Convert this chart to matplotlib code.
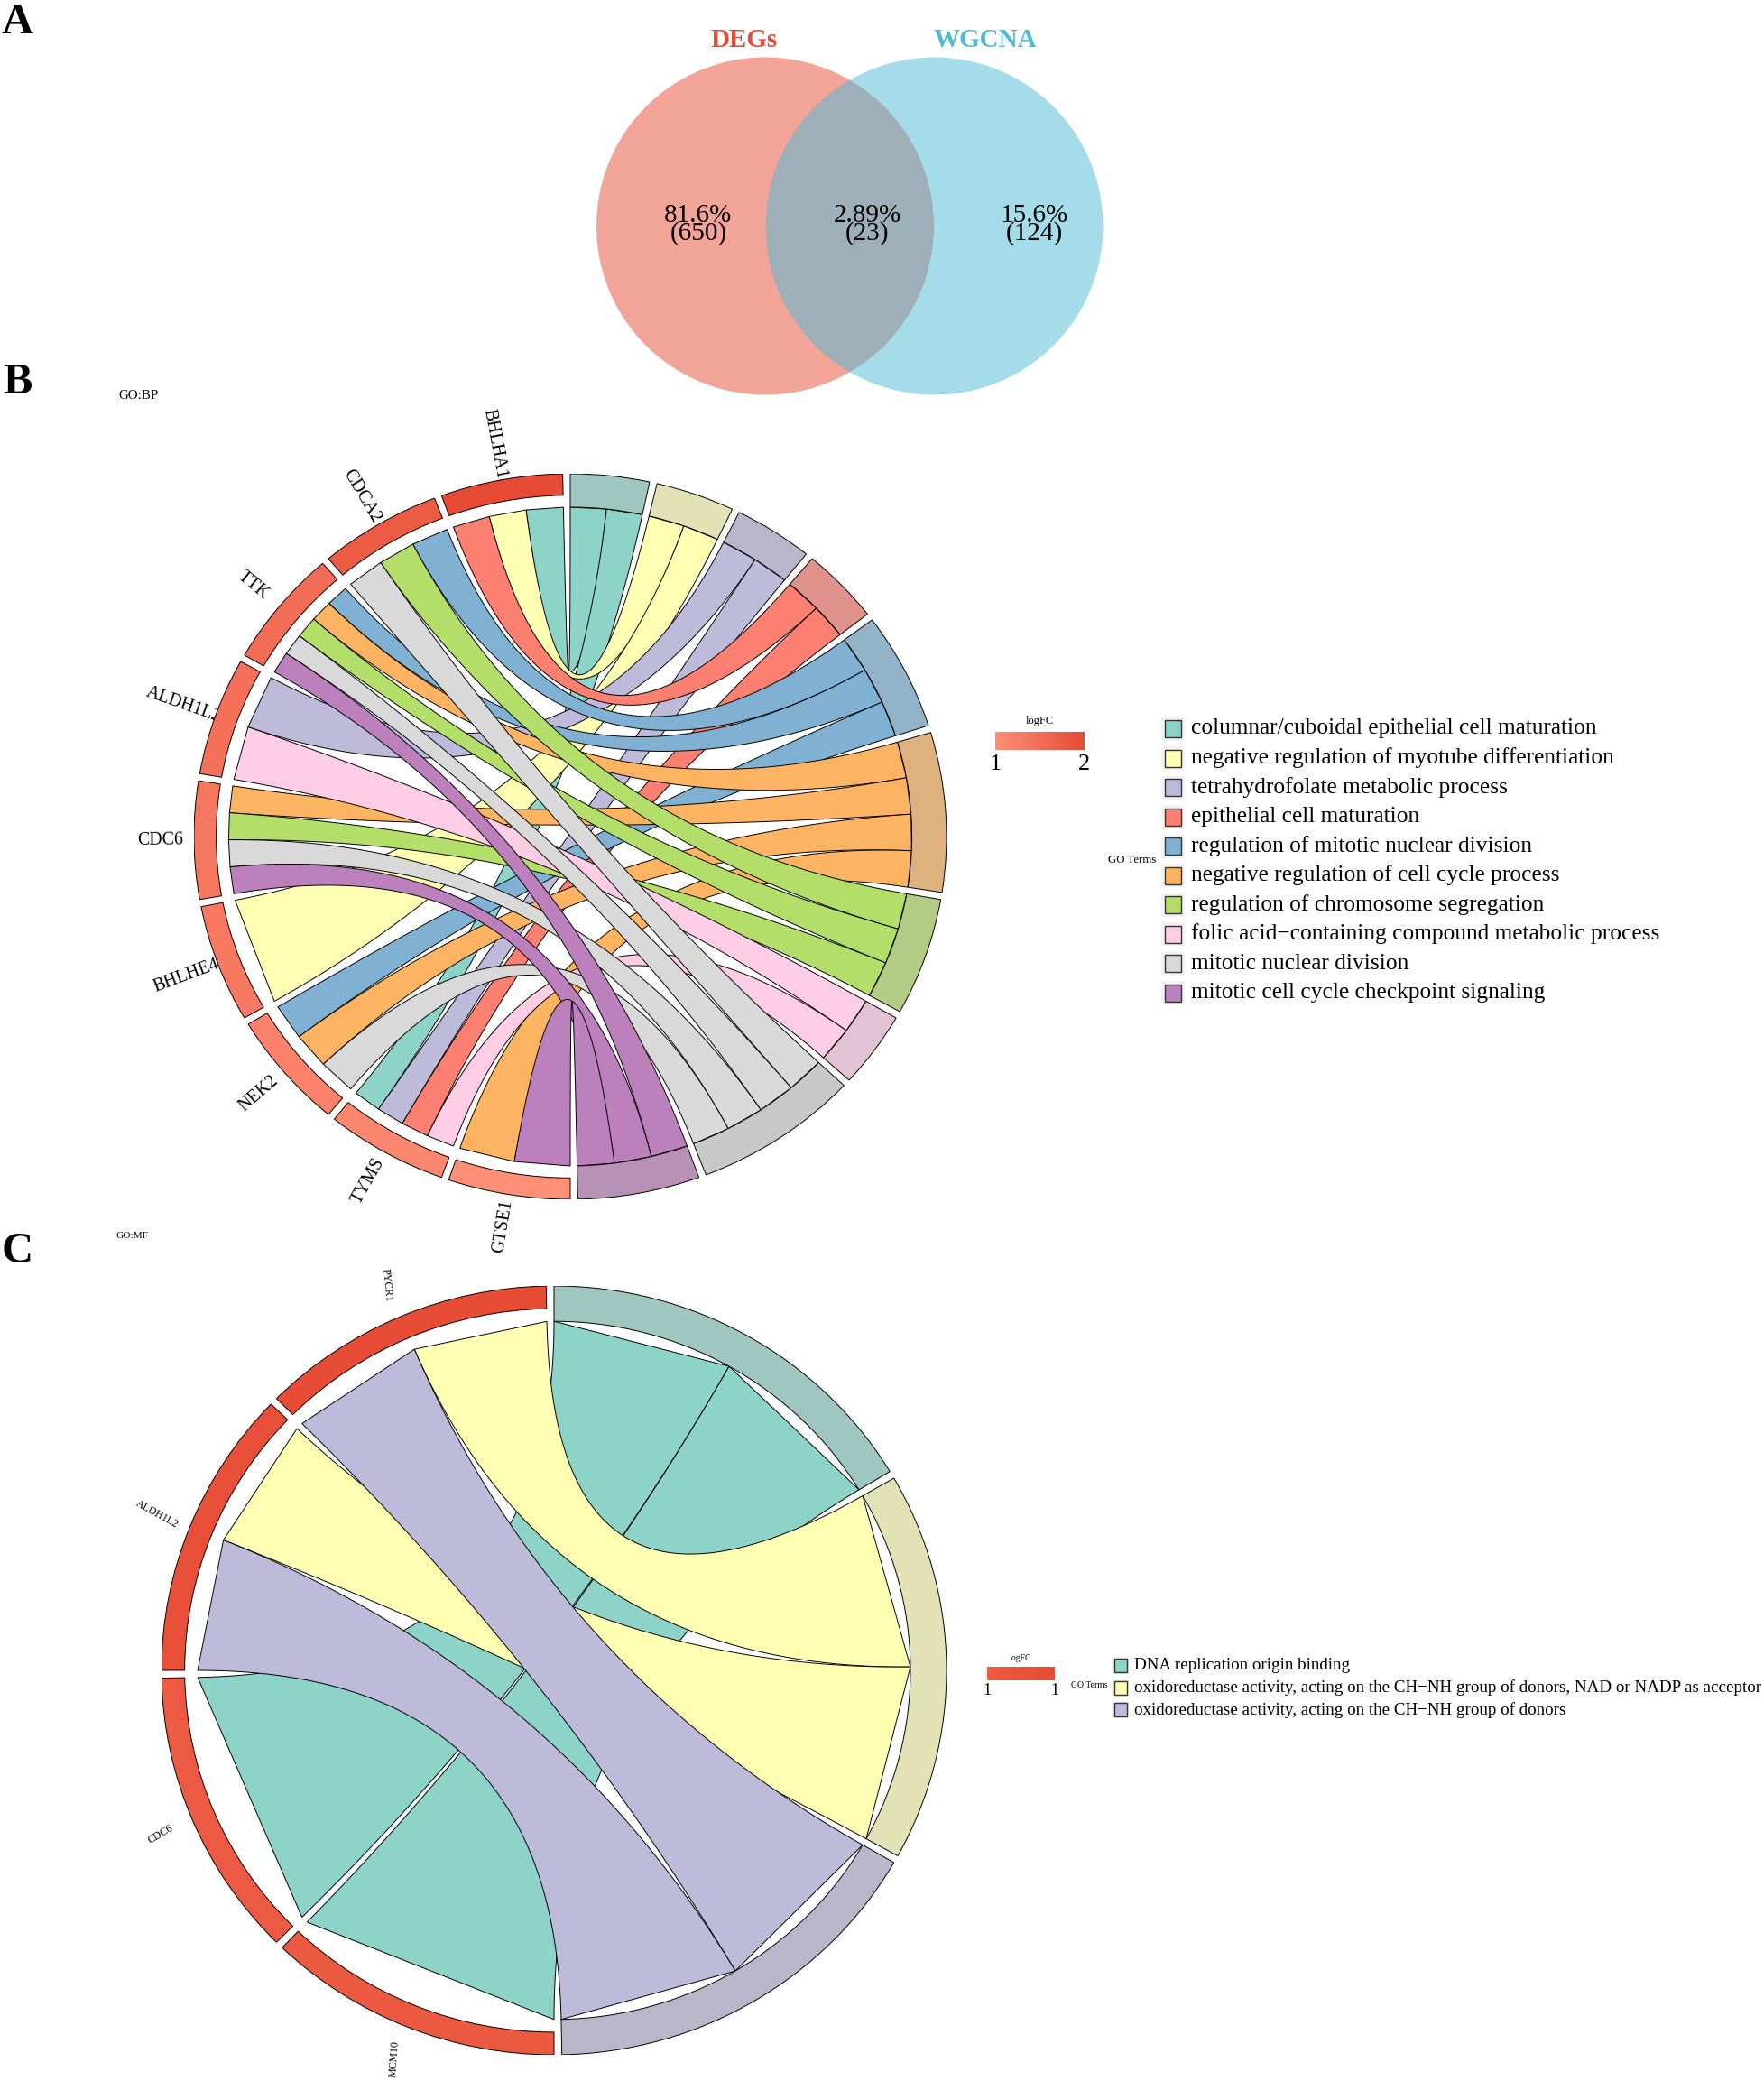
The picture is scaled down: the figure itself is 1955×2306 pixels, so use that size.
import numpy as np
import matplotlib
matplotlib.use("Agg")
import matplotlib.pyplot as plt
from matplotlib.colors import LinearSegmentedColormap
from matplotlib.patches import Circle, Polygon, Rectangle, Wedge

plt.rcParams['font.family'] = ['Liberation Serif', 'DejaVu Serif']

W, H = 1955, 2306

# Venn
venn_names = ['DEGs', 'WGCNA']
venn_colors = ['#E64B35', '#4DBBD5']
venn_pct = ['81.6%', '2.89%', '15.6%']
venn_cnt = ['(650)', '(23)', '(124)']

# GO:BP
bp_genes = ['GTSE1', 'TYMS', 'NEK2', 'BHLHE4', 'CDC6', 'ALDH1L2', 'TTK', 'CDCA2', 'BHLHA15']
bp_logfc = [1.0, 1.12, 1.2, 1.32, 1.35, 1.45, 1.5, 1.75, 2.0]
bp_terms = ['columnar/cuboidal epithelial cell maturation',
            'negative regulation of myotube differentiation',
            'tetrahydrofolate metabolic process',
            'epithelial cell maturation',
            'regulation of mitotic nuclear division',
            'negative regulation of cell cycle process',
            'regulation of chromosome segregation',
            'folic acid\u2212containing compound metabolic process',
            'mitotic nuclear division',
            'mitotic cell cycle checkpoint signaling']
bp_members = [['BHLHA15', 'TYMS'],
              ['BHLHA15', 'BHLHE4'],
              ['ALDH1L2', 'TYMS'],
              ['BHLHA15', 'TYMS'],
              ['CDCA2', 'TTK', 'NEK2'],
              ['TTK', 'CDC6', 'NEK2', 'GTSE1'],
              ['CDCA2', 'TTK', 'CDC6'],
              ['ALDH1L2', 'TYMS'],
              ['CDCA2', 'TTK', 'CDC6', 'NEK2'],
              ['TTK', 'CDC6', 'GTSE1']]

# GO:MF
mf_genes = ['MCM10', 'CDC6', 'ALDH1L2', 'PYCR1']
mf_logfc = [1.04, 1.02, 1.15, 1.18]
mf_terms = ['DNA replication origin binding',
            'oxidoreductase activity, acting on the CH\u2212NH group of donors, NAD or NADP as acceptor',
            'oxidoreductase activity, acting on the CH\u2212NH group of donors']
mf_members = [['CDC6', 'MCM10'],
              ['PYCR1', 'ALDH1L2'],
              ['PYCR1', 'ALDH1L2']]

ribbon_cols = ['#8DD3C7', '#FFFFB3', '#BEBADA', '#FB8072', '#80B1D3',
               '#FDB462', '#B3DE69', '#FCCDE5', '#D9D9D9', '#BC80BD']
ring_cols = ['#9FC6BF', '#E2E2B6', '#B9B6CC', '#DF918B', '#93B3C9',
             '#DFB17F', '#B3CC85', '#E1C3D4', '#C8C8C8', '#B792B6']

R_RIB = 0.908
R_GENE = 0.941
GAP = 1.15


def pol(theta, r=R_RIB):
    a = np.radians(theta)
    return np.array([r * np.sin(a), r * np.cos(a)])


def bezier(p0, p1, n=100):
    # control point sits on the origin, like GOChord
    t = np.linspace(0, 1, n)[:, None]
    return (1 - t) ** 2 * p0 + t ** 2 * p1


def chord_axes(cx, cy, rx, ry):
    ax = fig.add_axes([(cx - rx) / W, 1 - (cy + ry) / H, 2 * rx / W, 2 * ry / H])
    ax.set_xlim(-1, 1)
    ax.set_ylim(-1, 1)
    ax.axis('off')
    return ax


def draw_chord(ax, genes, logfc, terms, members, cmap, vmin, vmax, label_size, rots=None):
    n_rib = sum(len(m) for m in members)
    pitch = 180 / n_rib
    step = 180 / len(genes)

    # gene slots, clockwise inside a gene = last term first
    gene_slots = {}
    for i, g in enumerate(genes):
        hits = [k for k in range(len(terms)) if g in members[k]][::-1]
        w = (step - GAP) / len(hits)
        a0 = 180 + step * i
        for j, k in enumerate(hits):
            gene_slots[(g, k)] = (a0 + j * w, a0 + (j + 1) * w)
        col = cmap((logfc[i] - vmin) / (vmax - vmin))
        ax.add_patch(Wedge((0, 0), 1, 90 - (a0 + step - GAP), 90 - a0, width=1 - R_GENE,
                           fc=col, ec='black', lw=0.7, zorder=3))
        mid = a0 + (step - GAP) / 2
        x, y = pol(mid, 1.09)
        rot = 270 - mid if rots is None else rots[i]
        ax.text(x, y, g, fontsize=label_size, rotation=rot, ha='center', va='center',
                rotation_mode='anchor', zorder=1, clip_on=False)

    # terms start at the top and run clockwise
    pos = 0
    for k, term in enumerate(terms):
        full = len(members[k]) * pitch
        width = full - GAP
        unit = width / len(members[k])
        ax.add_patch(Wedge((0, 0), 1, 90 - (pos + width), 90 - pos, width=1 - R_RIB,
                           fc=ring_cols[k], ec='black', lw=0.7, zorder=3))
        for j, g in enumerate(members[k]):
            b1, b2 = pos + j * unit, pos + (j + 1) * unit
            a1, a2 = gene_slots[(g, k)]
            path = np.vstack([bezier(pol(a2), pol(b1)), bezier(pol(b2), pol(a1))])
            ax.add_patch(Polygon(path, closed=True, fc=ribbon_cols[k], ec='black',
                                 lw=0.7, zorder=2 + k * 0.01))
        pos += full


def draw_legend(ax, terms, key_x, y0, dy, key_w, key_h, back, text_x, size):
    for i, term in enumerate(terms):
        y = y0 + i * dy
        ax.add_patch(Rectangle((key_x - back / 2, y - back / 2), back, back,
                               fc='#F2F2F2', ec='none'))
        ax.add_patch(Rectangle((key_x - key_w / 2, y - key_h / 2), key_w, key_h,
                               fc=ribbon_cols[i], ec='#333333', lw=1))
        ax.text(text_x, y, term, fontsize=size, va='center', ha='left')


def draw_colorbar(x0, x1, y0, y1, cmap, ticks, size, off):
    cax = fig.add_axes([x0 / W, 1 - y1 / H, (x1 - x0) / W, (y1 - y0) / H])
    cax.imshow(np.linspace(0, 1, 256)[None, :], aspect='auto', cmap=cmap, vmin=0, vmax=1)
    cax.axis('off')
    over.text(x0, y1 + off, ticks[0], fontsize=size, ha='center', va='center')
    over.text(x1, y1 + off, ticks[1], fontsize=size, ha='center', va='center')


fig = plt.figure(figsize=(W / 100, H / 100), dpi=100, facecolor='white')

# pixel overlay for texts and legends
over = fig.add_axes([0, 0, 1, 1])
over.set_xlim(0, W)
over.set_ylim(H, 0)
over.axis('off')

# A - venn
venn_x = [848, 1035.5]
for x, c in zip(venn_x, venn_colors):
    over.add_patch(Circle((x, 250.5), 187, fc=c, alpha=0.5, ec='none'))
over.text(825, 44, venn_names[0], color=venn_colors[0], fontsize=21, weight='bold',
          ha='center', va='center')
over.text(1092, 44, venn_names[1], color=venn_colors[1], fontsize=21, weight='bold',
          ha='center', va='center')
for x, p, c in zip([774, 961, 1146], venn_pct, venn_cnt):
    over.text(x, 239, p, fontsize=21, ha='center', va='center')
    over.text(x, 259, c, fontsize=21, ha='center', va='center')

for lab, y in zip('ABC', [25, 424, 1387]):
    over.text(19, y, lab, fontsize=35, weight='bold', ha='center', va='center')

# B
over.text(131, 438, 'GO:BP', fontsize=10.8, va='center')
bp_cmap = LinearSegmentedColormap.from_list('bp', ['#FF8F77', '#E64B35'])
ax_b = chord_axes(632, 927, 417, 402)
draw_chord(ax_b, bp_genes, bp_logfc, bp_terms, bp_members, bp_cmap, 1, 2, 14.3)
over.text(1152, 799, 'logFC', fontsize=9, ha='center', va='center')
draw_colorbar(1103, 1202, 811, 831, bp_cmap, ['1', '2'], 19, 16)
over.text(1281, 953, 'GO Terms', fontsize=9.3, ha='right', va='center')
draw_legend(over, bp_terms, 1300, 807.5, 32.5, 18, 19, 26, 1320, 18.25)

# C
over.text(129, 1369, 'GO:MF', fontsize=8.2, va='center')
mf_cmap = LinearSegmentedColormap.from_list('mf', ['#EE5C44', '#E64B35'])
ax_c = chord_axes(614, 1851, 435, 426)
draw_chord(ax_c, mf_genes, mf_logfc, mf_terms, mf_members, mf_cmap, 1, 1.2, 8.5,
           rots=[86, 31, -29, -84])
over.text(1131, 1838, 'logFC', fontsize=7, ha='center', va='center')
draw_colorbar(1094, 1169, 1847, 1862, mf_cmap, ['1', '1'], 13, 12)
over.text(1228, 1868, 'GO Terms', fontsize=7, ha='right', va='center')
draw_legend(over, mf_terms, 1242, 1845.5, 24.7, 14, 15, 19, 1257, 13.7)

fig.savefig('out.png', dpi=100, facecolor='white')
